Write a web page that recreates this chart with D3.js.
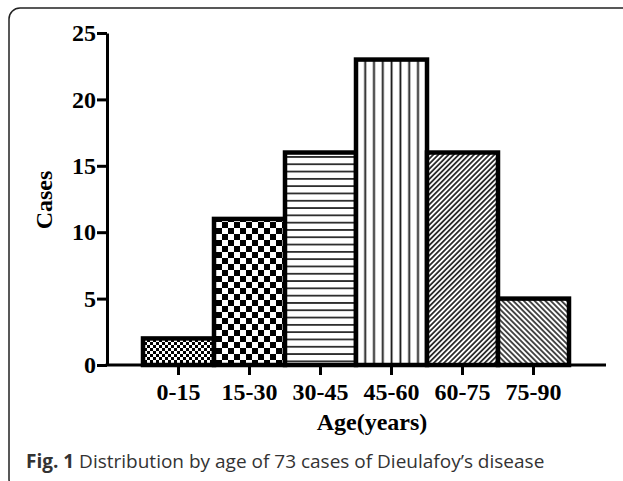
<!DOCTYPE html>
<html>
<head>
<meta charset="utf-8">
<script src="https://cdn.jsdelivr.net/npm/d3@7"></script>
<style>
	body { margin: 0; background: #fff; overflow: hidden; }
	svg { display: block; }
</style>
</head>
<body>
<svg id="chart" width="623" height="481"></svg>
<script>
const categories = ["0-15", "15-30", "30-45", "45-60", "60-75", "75-90"];
const cases = [2, 11, 16, 23, 16, 5];
const yTicks = [0, 5, 10, 15, 20, 25];
const fills = ["checkSmall", "checkBig", "hLines", "vLines", "diagUp", "diagDown"];

const svg = d3.select("#chart");
const defs = svg.append("defs");

// frame round the figure: only the top and left sides show on the page
const frame = d3.path();
frame.moveTo(623, 8);
frame.lineTo(20, 8);
frame.arcTo(9, 8, 9, 19, 11);
frame.lineTo(9, 479);
frame.arcTo(9, 490, 20, 490, 11);
svg.append("path")
	.attr("d", frame.toString())
	.style("fill", "none")
	.style("stroke", "#222")
	.style("stroke-width", 1.5);

function checker(id, size) {
	const p = defs.append("pattern")
		.attr("id", id)
		.attr("patternUnits", "userSpaceOnUse")
		.attr("width", size * 2).attr("height", size * 2);
	p.append("rect").attr("width", size * 2).attr("height", size * 2).style("fill", "#fff");
	p.append("rect").attr("width", size).attr("height", size).style("fill", "#000");
	p.append("rect").attr("x", size).attr("y", size).attr("width", size).attr("height", size).style("fill", "#000");
}

function lines(id, gap, angle, w) {
	const p = defs.append("pattern")
		.attr("id", id)
		.attr("patternUnits", "userSpaceOnUse")
		.attr("width", gap).attr("height", gap)
		.attr("patternTransform", "rotate(" + angle + ")");
	p.append("rect").attr("width", gap).attr("height", gap).style("fill", "#fff");
	p.append("line")
		.attr("x1", 0).attr("y1", gap / 2)
		.attr("x2", gap).attr("y2", gap / 2)
		.style("stroke", "#111")
		.style("stroke-width", w);
}

checker("checkSmall", 3);
checker("checkBig", 6);
lines("hLines", 7.3, 0, 1.6);
lines("vLines", 8.8, 90, 1.8);
lines("diagUp", 3.6, -45, 1.6);
lines("diagDown", 3.8, 45, 1.5);

const x = d3.scaleBand()
	.domain(categories)
	.range([143, 569])
	.padding(0);

const y = d3.scaleLinear()
	.domain([0, 25])
	.range([365, 33]);

const axisX0 = 107;
const axisX1 = 606;

svg.selectAll("rect.bar")
	.data(categories)
	.enter()
	.append("rect")
	.attr("class", "bar")
	.attr("x", d => x(d))
	.attr("y", (d, i) => y(cases[i]))
	.attr("width", x.bandwidth())
	.attr("height", (d, i) => y(0) - y(cases[i]))
	.style("fill", (d, i) => "url(#" + fills[i] + ")")
	.style("stroke", "#000")
	.style("stroke-width", 4.5);

// y axis
const yAxis = svg.append("g")
	.attr("transform", "translate(" + axisX0 + ",0)")
	.call(d3.axisLeft(y).tickValues(yTicks).tickSize(10).tickPadding(1).tickSizeOuter(0));
yAxis.select(".domain").style("stroke", "#000").style("stroke-width", 3);
yAxis.selectAll(".tick line").style("stroke", "#000").style("stroke-width", 3);
yAxis.selectAll(".tick text")
	.style("font-family", "'Liberation Serif', 'Times New Roman', serif")
	.style("font-weight", "bold")
	.style("font-size", "24px")
	.style("fill", "#000");

// x axis
const xAxis = svg.append("g")
	.attr("transform", "translate(0," + y(0) + ")")
	.call(d3.axisBottom(x).tickSize(10).tickPadding(8).tickSizeOuter(0));
xAxis.select(".domain").remove();
xAxis.append("line")
	.attr("x1", axisX0 - 1.5).attr("x2", axisX1)
	.style("stroke", "#000").style("stroke-width", 3);
xAxis.selectAll(".tick line").style("stroke", "#000").style("stroke-width", 3);
xAxis.selectAll(".tick text")
	.style("font-family", "'Liberation Serif', 'Times New Roman', serif")
	.style("font-weight", "bold")
	.style("font-size", "24px")
	.style("fill", "#000");

// axis titles
svg.append("text")
	.attr("x", 372).attr("y", 430)
	.attr("text-anchor", "middle")
	.style("font-family", "'Liberation Serif', 'Times New Roman', serif")
	.style("font-weight", "bold")
	.style("font-size", "24px")
	.text("Age(years)");

svg.append("text")
	.attr("transform", "translate(52,200) rotate(-90)")
	.attr("text-anchor", "middle")
	.style("font-family", "'Liberation Serif', 'Times New Roman', serif")
	.style("font-weight", "bold")
	.style("font-size", "24px")
	.text("Cases");

// caption
const cap = svg.append("text")
	.attr("x", 26).attr("y", 468)
	.style("font-family", "'Open Sans', 'Noto Sans', sans-serif")
	.style("font-size", "19px")
	.style("fill", "#333");
cap.append("tspan").style("font-weight", "bold").text("Fig. 1");
cap.append("tspan").text(" Distribution by age of 73 cases of Dieulafoy\u2019s disease");
</script>
</body>
</html>
